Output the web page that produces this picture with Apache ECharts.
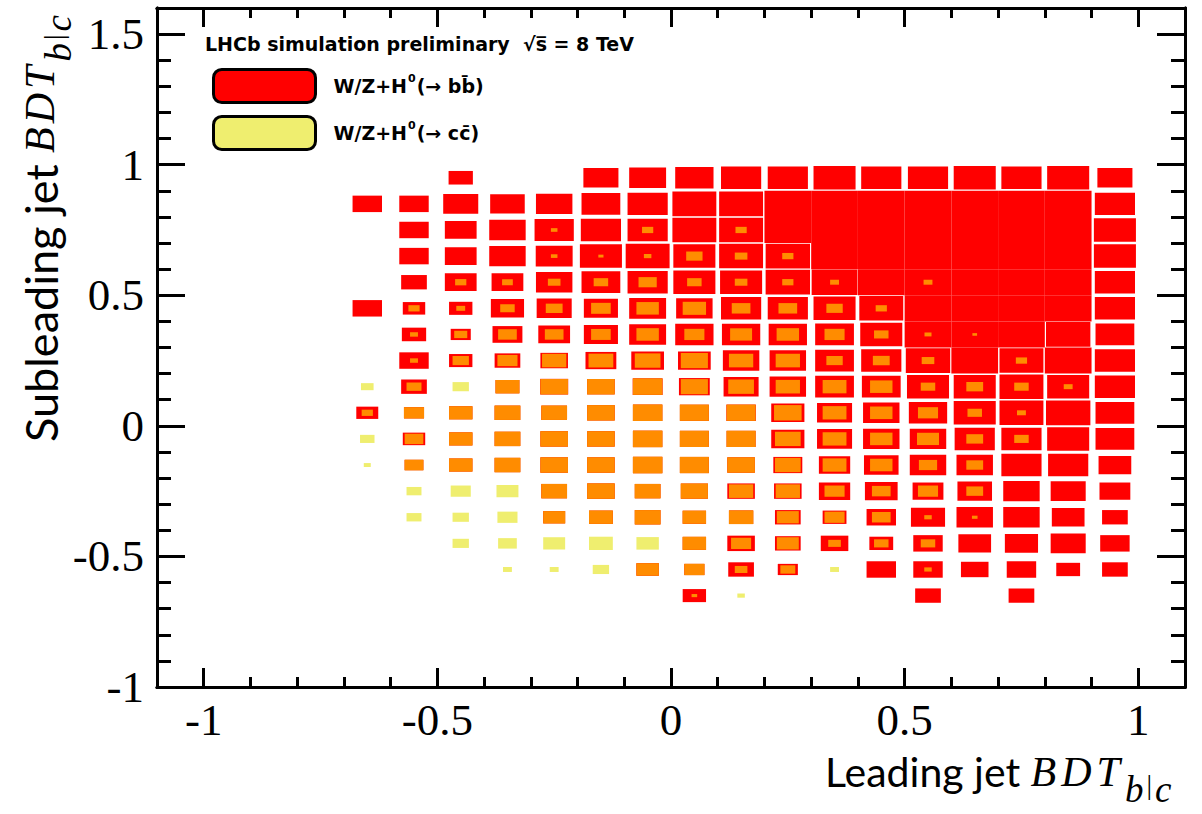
<!DOCTYPE html>
<html>
<head>
<meta charset="utf-8">
<script src="https://cdn.jsdelivr.net/npm/echarts@6/dist/echarts.min.js"></script>
<style>
  html, body { margin: 0; padding: 0; background: #fff; }
  #chart { width: 1202px; height: 814px; }
</style>
</head>
<body>
<div id="chart"></div>
<script>
// bin centres (bin width 0.1 on both axes)
const BIN = 0.1;
const xBins = [-0.65, -0.55, -0.45, -0.35, -0.25, -0.15, -0.05, 0.05, 0.15, 0.25, 0.35, 0.45, 0.55, 0.65, 0.75, 0.85, 0.95];
const yBins = [0.95, 0.85, 0.75, 0.65, 0.55, 0.45, 0.35, 0.25, 0.15, 0.05, -0.05, -0.15, -0.25, -0.35, -0.45, -0.55, -0.65];

// box size (fraction of the bin) for W/Z+H -> bb, one row per yBins entry
const bbRows = [
  [0, 0, 0.52, 0, 0, 0.75, 0.79, 0.82, 0.86, 0.86, 0.9, 0.86, 0.86, 0.9, 0.86, 0.9, 0.75],
  [0.63, 0.63, 0.75, 0.74, 0.78, 0.83, 0.86, 0.94, 0.94, 1, 1, 1, 1, 1, 1, 1, 0.86],
  [0, 0.63, 0.68, 0.78, 0.84, 0.86, 0.86, 0.94, 0.94, 1, 1, 1, 1, 1, 1, 1, 0.9],
  [0, 0.63, 0.68, 0.78, 0.79, 0.9, 0.94, 0.9, 0.94, 0.95, 1, 1, 1, 1, 1, 1, 0.9],
  [0, 0.55, 0.68, 0.68, 0.78, 0.83, 0.86, 0.9, 0.9, 0.95, 0.98, 1, 1, 1, 1, 1, 0.86],
  [0.63, 0.48, 0.5, 0.71, 0.75, 0.73, 0.79, 0.78, 0.86, 0.86, 0.9, 0.94, 1, 1, 1, 1, 0.86],
  [0, 0.52, 0.43, 0.64, 0.68, 0.73, 0.79, 0.82, 0.82, 0.82, 0.83, 0.9, 1, 1, 1, 0.95, 0.83],
  [0, 0.63, 0.5, 0.55, 0.59, 0.66, 0.7, 0.7, 0.78, 0.78, 0.83, 0.86, 0.95, 1, 0.94, 1, 0.86],
  [0, 0.55, 0, 0.51, 0.6, 0.59, 0.64, 0.66, 0.75, 0.78, 0.83, 0.83, 0.9, 0.9, 0.94, 0.9, 0.86],
  [0.47, 0.43, 0.5, 0.55, 0.55, 0.59, 0.63, 0.62, 0.63, 0.71, 0.75, 0.78, 0.82, 0.9, 0.94, 0.95, 0.83],
  [0, 0.48, 0.5, 0.55, 0.59, 0.59, 0.63, 0.62, 0.62, 0.71, 0.75, 0.78, 0.78, 0.86, 0.86, 0.9, 0.83],
  [0, 0.4, 0.5, 0.55, 0.59, 0.59, 0.63, 0.62, 0.59, 0.62, 0.67, 0.74, 0.78, 0.78, 0.86, 0.86, 0.7],
  [0, 0, 0, 0, 0.55, 0.59, 0.55, 0.58, 0.59, 0.59, 0.67, 0.7, 0.66, 0.74, 0.78, 0.75, 0.66],
  [0, 0, 0, 0, 0.47, 0.51, 0.55, 0.5, 0.52, 0.55, 0.51, 0.63, 0.73, 0.78, 0.78, 0.7, 0.55],
  [0, 0, 0, 0, 0, 0, 0, 0.5, 0.59, 0.55, 0.59, 0.51, 0.63, 0.7, 0.71, 0.75, 0.63],
  [0, 0, 0, 0, 0, 0, 0.48, 0.43, 0.55, 0.43, 0, 0.63, 0.63, 0.59, 0.63, 0.51, 0.55],
  [0, 0, 0, 0, 0, 0, 0, 0.5, 0, 0, 0, 0, 0.55, 0, 0.55, 0, 0]
];

// box size for W/Z+H -> cc
const ccRows = [
  [0, 0, 0, 0, 0, 0, 0, 0, 0, 0, 0, 0, 0, 0, 0, 0, 0],
  [0, 0, 0, 0, 0, 0, 0, 0, 0, 0, 0, 0, 0, 0, 0, 0, 0],
  [0, 0, 0, 0, 0.14, 0, 0.24, 0, 0.24, 0, 0, 0, 0, 0, 0, 0, 0],
  [0, 0, 0, 0, 0.14, 0.11, 0.16, 0.35, 0.27, 0.24, 0, 0, 0, 0, 0, 0, 0],
  [0, 0, 0.24, 0.23, 0.27, 0.31, 0.39, 0.31, 0.27, 0.24, 0.19, 0, 0.19, 0, 0, 0, 0],
  [0, 0.24, 0.19, 0.31, 0.36, 0.42, 0.48, 0.5, 0.4, 0.4, 0.35, 0.24, 0, 0, 0, 0, 0],
  [0, 0.17, 0.28, 0.4, 0.4, 0.42, 0.48, 0.43, 0.47, 0.48, 0.43, 0.31, 0.15, 0.1, 0, 0, 0],
  [0, 0.17, 0.35, 0.43, 0.52, 0.53, 0.55, 0.58, 0.52, 0.52, 0.35, 0.36, 0.27, 0, 0.24, 0, 0],
  [0.27, 0.32, 0.35, 0.51, 0.59, 0.59, 0.63, 0.58, 0.55, 0.52, 0.51, 0.48, 0.31, 0.36, 0.31, 0.19, 0],
  [0.24, 0.43, 0.5, 0.55, 0.55, 0.59, 0.63, 0.62, 0.62, 0.59, 0.51, 0.48, 0.43, 0.31, 0.19, 0, 0],
  [0.31, 0.4, 0.5, 0.55, 0.59, 0.59, 0.63, 0.62, 0.62, 0.55, 0.51, 0.48, 0.47, 0.36, 0.31, 0, 0],
  [0.15, 0.4, 0.5, 0.55, 0.59, 0.59, 0.63, 0.62, 0.59, 0.55, 0.51, 0.48, 0.39, 0.36, 0, 0, 0],
  [0, 0.32, 0.43, 0.47, 0.55, 0.59, 0.55, 0.58, 0.52, 0.52, 0.43, 0.4, 0.43, 0.36, 0, 0, 0],
  [0, 0.32, 0.35, 0.43, 0.47, 0.51, 0.55, 0.5, 0.52, 0.47, 0.43, 0.4, 0.16, 0.12, 0, 0, 0],
  [0, 0, 0.35, 0.4, 0.47, 0.51, 0.48, 0.5, 0.43, 0.47, 0.27, 0.31, 0.31, 0, 0, 0, 0],
  [0, 0, 0, 0.19, 0.19, 0.35, 0.48, 0.43, 0.27, 0.32, 0.19, 0, 0.16, 0, 0, 0, 0],
  [0, 0, 0, 0, 0, 0, 0, 0.12, 0.16, 0, 0, 0, 0, 0, 0, 0, 0]
];

// ticks
const xMajorTicks = [-1, -0.5, 0, 0.5, 1];
const xMinorTicks = [-1, -0.9, -0.8, -0.7, -0.6, -0.5, -0.4, -0.3, -0.2, -0.1, 0, 0.1, 0.2, 0.3, 0.4, 0.5, 0.6, 0.7, 0.8, 0.9, 1];
const yMajorTicks = [-1, -0.5, 0, 0.5, 1, 1.5];
const yMinorTicks = [-1, -0.9, -0.8, -0.7, -0.6, -0.5, -0.4, -0.3, -0.2, -0.1, 0, 0.1, 0.2, 0.3, 0.4, 0.5, 0.6, 0.7, 0.8, 0.9, 1, 1.1, 1.2, 1.3, 1.4, 1.5];

const RED = '#ff0000';
const YELLOW = '#efee6f';
const ORANGE = '#ff8c00';
const GOLD = '#ffc000';

// build [x, y, size] triplets
function cells(pick) {
  const out = [];
  yBins.forEach((y, r) => {
    xBins.forEach((x, c) => {
      const v = pick(bbRows[r][c], ccRows[r][c]);
      if (v > 0) out.push([x, y, v]);
    });
  });
  return out;
}

const bbData = cells((bb, cc) => bb);
const ccData = cells((bb, cc) => cc);
const overlapData = cells((bb, cc) => (bb > 0 && cc > 0 ? Math.min(bb, cc) : 0));

function boxItem(params, api) {
  const c = api.coord([api.value(0), api.value(1)]);
  const s = api.size([BIN, BIN]);
  const f = api.value(2);
  return {
    type: 'rect',
    shape: { x: c[0] - s[0] * f / 2, y: c[1] - s[1] * f / 2, width: s[0] * f, height: s[1] * f },
    style: { fill: api.visual('color') }
  };
}

const black = { color: '#000', width: 3 };
const serifLabel = { fontFamily: 'Liberation Serif', fontSize: 45, color: '#000' };

function xAxisOf(position, ticks, len, labels) {
  return {
    type: 'value', min: -1.1, max: 1.1, position: position,
    axisLine: { show: true, onZero: false, lineStyle: black },
    axisTick: { show: true, inside: true, length: len, lineStyle: black, customValues: ticks },
    axisLabel: labels ? Object.assign({ show: true, margin: 10, customValues: ticks }, serifLabel) : { show: false },
    splitLine: { show: false }
  };
}
function yAxisOf(position, ticks, len, labels) {
  return {
    type: 'value', min: -1, max: 1.6, position: position,
    axisLine: { show: true, onZero: false, lineStyle: black },
    axisTick: { show: true, inside: true, length: len, lineStyle: black, customValues: ticks },
    axisLabel: labels ? Object.assign({ show: true, margin: 13, customValues: ticks }, serifLabel) : { show: false },
    splitLine: { show: false }
  };
}

// rich styles for the axis titles: plain, italic BDT, coloured subscript b|c
function titleRich(size, italic, sub, shift, gap) {
  const lh = size + 6;
  const subPad = shift + (lh - sub) / 2;
  return {
    n: { fontFamily: 'Lato', fontSize: size, lineHeight: lh, verticalAlign: 'top', color: '#000' },
    i: { fontFamily: 'Liberation Serif', fontStyle: 'italic', fontSize: italic, lineHeight: lh, padding: [0, gap, 0, 0], verticalAlign: 'top', color: '#000' },
    b: { fontFamily: 'Liberation Serif', fontStyle: 'italic', fontSize: sub, lineHeight: sub, padding: [subPad, 0, 0, 0], verticalAlign: 'top', color: RED },
    p: { fontFamily: 'Liberation Serif', fontSize: sub * 0.75, lineHeight: sub, padding: [subPad, 3, 0, 3], verticalAlign: 'top', color: '#000' },
    c: { fontFamily: 'Liberation Serif', fontStyle: 'italic', fontSize: sub, lineHeight: sub, padding: [subPad, 0, 0, 0], verticalAlign: 'top', color: GOLD }
  };
}

const legendRich = {
  t: { fontFamily: 'DejaVu Sans', fontWeight: 'bold', fontSize: 19, lineHeight: 22, color: '#000' },
  s: { fontFamily: 'DejaVu Sans', fontWeight: 'bold', fontSize: 11, lineHeight: 11, padding: [0, 1, 13, 1], verticalAlign: 'bottom', color: '#000' }
};
const legendLabels = {
  bb: '{t|W/Z+H}{s|0}{t|(\u2192 b}{t|b\u0304)}',
  cc: '{t|W/Z+H}{s|0}{t|(\u2192 c}{t|c\u0304)}'
};

const chart = echarts.init(document.getElementById('chart'), null, { renderer: 'svg' });

chart.setOption({
  animation: false,
  backgroundColor: '#fff',
  grid: { left: 157, right: 17, top: 8, bottom: 127, containLabel: false },
  xAxis: [
    xAxisOf('bottom', xMajorTicks, 19, true),
    xAxisOf('bottom', xMinorTicks, 10, false),
    xAxisOf('top', xMajorTicks, 19, false),
    xAxisOf('top', xMinorTicks, 10, false)
  ],
  yAxis: [
    yAxisOf('left', yMajorTicks, 28, true),
    yAxisOf('left', yMinorTicks, 14, false),
    yAxisOf('right', yMajorTicks, 28, false),
    yAxisOf('right', yMinorTicks, 14, false)
  ],
  legend: {
    orient: 'vertical',
    left: 212,
    top: 68,
    padding: 0,
    itemWidth: 102,
    itemHeight: 33,
    itemGap: 11,
    icon: 'roundRect',
    itemStyle: { borderColor: '#000', borderWidth: 3 },
    selectedMode: false,
    data: ['bb', 'cc'],
    formatter: name => legendLabels[name],
    textStyle: { padding: [0, 0, 0, 13], rich: legendRich }
  },
  graphic: [
    {
      type: 'text', x: 205, y: 44,
      style: {
        text: 'LHCb simulation preliminary  \u221As\u0305 = 8 TeV',
        fontFamily: 'DejaVu Sans', fontWeight: 'bold', fontSize: 19,
        fill: '#000', verticalAlign: 'middle'
      }
    },
    {
      type: 'text', x: 825, y: 774,
      style: {
        text: '{n|Leading jet }{i|B}{i|D}{i|T}{b|b}{p||}{c|c}',
        rich: titleRich(41, 42, 37, 15, 5), verticalAlign: 'middle', align: 'left'
      }
    },
    {
      type: 'text', x: 44, y: 442, rotation: Math.PI / 2,
      style: {
        text: '{n|Subleading jet }{i|B}{i|D}{i|T}{b|b}{p||}{c|c}',
        rich: titleRich(45, 42, 37, 14, 4), verticalAlign: 'middle', align: 'left'
      }
    }
  ],
  series: [
    { name: 'cc', type: 'custom', renderItem: boxItem, data: ccData, itemStyle: { color: YELLOW }, xAxisIndex: 0, yAxisIndex: 0, z: 2 },
    { name: 'bb', type: 'custom', renderItem: boxItem, data: bbData, itemStyle: { color: RED }, xAxisIndex: 0, yAxisIndex: 0, z: 3 },
    { name: 'overlap', type: 'custom', renderItem: boxItem, data: overlapData, itemStyle: { color: ORANGE }, xAxisIndex: 0, yAxisIndex: 0, z: 4 }
  ]
});
</script>
</body>
</html>
